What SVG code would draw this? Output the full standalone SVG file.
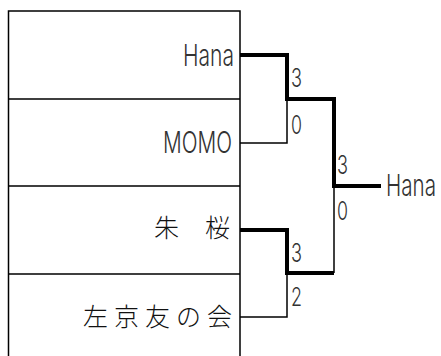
<svg xmlns="http://www.w3.org/2000/svg" width="441" height="356" viewBox="0 0 441 356">
<style>
.tbl{stroke:#000;stroke-width:1.5;fill:none}
.thin{stroke:#000;stroke-width:1.5;fill:none}
.thick{stroke:#000;stroke-width:4;fill:none;stroke-linejoin:miter}
.lat{font-family:Inter,"Liberation Sans",sans-serif;font-weight:300;fill:#333}
.name{font-size:30px}
.score{font-size:26px}
.cjk{font-family:"Noto Sans CJK JP",sans-serif;font-size:25px;font-weight:300;fill:#111}
</style>
<rect width="441" height="356" fill="#fff"/>
<g id="table">
<path class="tbl" d="M8.5,356 V11 H240 V356 M8.5,99 H240 M8.5,186 H240 M8.5,274 H240"/>
</g>
<g id="connectors">
<path class="thin" d="M240,143 H287 V99"/>
<path class="thin" d="M334,186 V273"/>
<path class="thin" d="M240,317 H287 V273"/>
<path class="thick" d="M240,55 H287 V99 H334 V186 H381"/>
<path class="thick" d="M240,230 H287 V273 H334"/>
</g>
<g id="team-hana"><text class="lat name" x="183" y="66" textLength="51" lengthAdjust="spacingAndGlyphs">Hana</text></g>
<g id="team-momo"><text class="lat name" x="163" y="153" textLength="69" lengthAdjust="spacingAndGlyphs">MOMO</text></g>
<g id="team-shuzakura"><text class="cjk" x="154" y="237">朱</text><text class="cjk" x="205" y="237">桜</text></g>
<g id="team-sakyo"><text class="cjk" x="83 114 145 176 207" y="326">左京友の会</text></g>
<g id="winner"><text class="lat name" x="386" y="196" textLength="50" lengthAdjust="spacingAndGlyphs">Hana</text></g>
<g id="scores">
<text class="lat score" x="291" y="87" textLength="11" lengthAdjust="spacingAndGlyphs">3</text>
<text class="lat score" x="291" y="134" textLength="11" lengthAdjust="spacingAndGlyphs">0</text>
<text class="lat score" x="337" y="174" textLength="11" lengthAdjust="spacingAndGlyphs">3</text>
<text class="lat score" x="337" y="220" textLength="11" lengthAdjust="spacingAndGlyphs">0</text>
<text class="lat score" x="291" y="262" textLength="11" lengthAdjust="spacingAndGlyphs">3</text>
<text class="lat score" x="291" y="306" textLength="11" lengthAdjust="spacingAndGlyphs">2</text>
</g>
</svg>
